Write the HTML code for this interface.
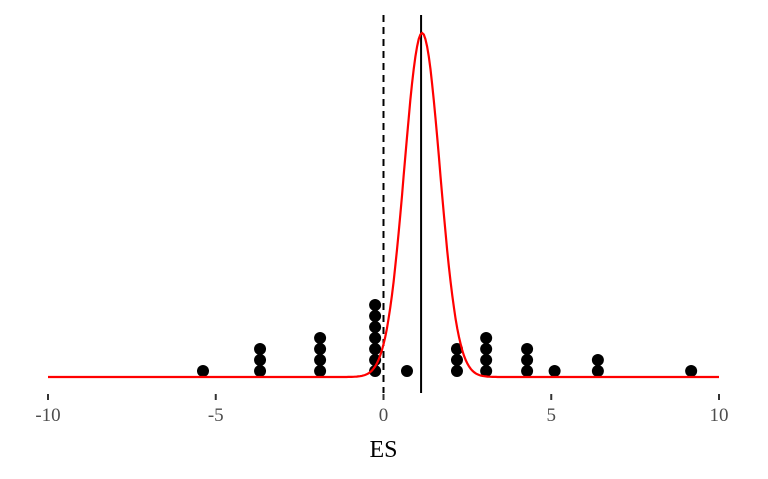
<!DOCTYPE html>
<html><head><meta charset="utf-8"><style>
body{margin:0;background:#fff}
svg text{font-family:"Liberation Serif",serif}
</style></head><body>
<svg id="chart" width="768" height="474" xmlns="http://www.w3.org/2000/svg"></svg>
<script>
const tickValues=[-10,-5,0,5,10];
const tickLabels=["-10","-5","0","5","10"];
const dotX=[-5.38,-3.68,-1.89,-0.25,0.70,2.19,3.06,4.28,5.10,6.39,9.17];
const dotCounts=[1,3,4,7,1,3,4,3,1,2,1];
const meanES=1.12;
const nullES=0;
const curveMean=1.15;
const curveSd=0.53;

const svg=document.getElementById('chart');
const NS='http://www.w3.org/2000/svg';
const xs=v=>383.5+v*33.55;
const base=377;
function mk(t,a,p){const e=document.createElementNS(NS,t);for(const k in a)e.setAttribute(k,a[k]);(p||svg).appendChild(e);return e;}

dotX.forEach((x,i)=>{
  for(let j=0;j<dotCounts[i];j++){
    const c=mk('circle',{cx:xs(x),cy:371-j*11,r:6,fill:'#000'});
    
    
  }
});
const d=mk('line',{x1:xs(nullES),x2:xs(nullES),y1:15,y2:393,stroke:'#000','stroke-width':2,'stroke-dasharray':'7,5'});


const m=mk('line',{x1:xs(meanES),x2:xs(meanES),y1:15,y2:393,stroke:'#000','stroke-width':2});


let pts=[];
for(let v=-10;v<=10.001;v+=0.05){
  const y=base-344*Math.exp(-0.5*Math.pow((v-curveMean)/curveSd,2));
  pts.push(xs(v).toFixed(1)+','+y.toFixed(1));
}
const cv=mk('polyline',{points:pts.join(' '),fill:'none',stroke:'#f00','stroke-width':2.2});


tickValues.forEach((v,i)=>{
  const t=mk('line',{x1:xs(v),x2:xs(v),y1:394,y2:400,stroke:'#333','stroke-width':2});
  
  
  const l=mk('text',{x:xs(v),y:421,'text-anchor':'middle','font-size':19,fill:'#4d4d4d'});
  l.textContent=tickLabels[i];
  
  
});
const ti=mk('text',{x:383.5,y:457,'text-anchor':'middle','font-size':24,fill:'#000'});
ti.textContent='ES';


</script>
</body></html>
